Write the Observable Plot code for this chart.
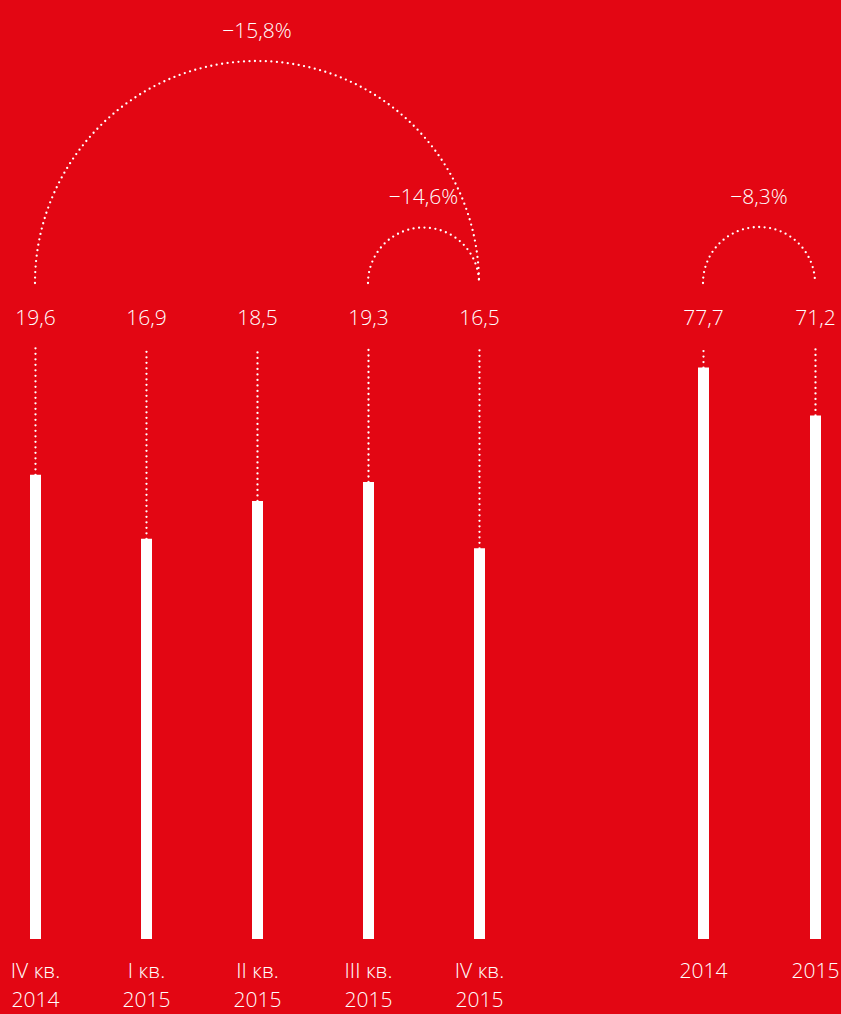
<!DOCTYPE html>
<html><head><meta charset="utf-8">
<script src="https://cdn.jsdelivr.net/npm/d3@7"></script>
<script src="https://cdn.jsdelivr.net/npm/@observablehq/plot@0.6"></script>
<style>
html,body{margin:0;padding:0;background:#E30613;}
#chart{position:relative;width:841px;height:1014px;background:#E30613;overflow:hidden;}
#chart svg{position:absolute;left:0;top:0;}
</style></head><body><div id="chart"></div>
<script>
// ---- data ----
const quarterLabels = ["IV кв.\n2014", "I кв.\n2015", "II кв.\n2015", "III кв.\n2015", "IV кв.\n2015"];
const quarterValues = [19.6, 16.9, 18.5, 19.3, 16.5];
const yearLabels = ["2014", "2015"];
const yearValues = [77.7, 71.2];
const quarterChangeFrom = ["IV кв.\n2014", "III кв.\n2015"];
const quarterChangeTo = ["IV кв.\n2015", "IV кв.\n2015"];
const quarterChangeText = ["−15,8%", "−14,6%"];
const yearChangeFrom = ["2014"];
const yearChangeTo = ["2015"];
const yearChangeText = ["−8,3%"];

const RED = "#E30613";
const FONT = "'Open Sans', 'DejaVu Sans', sans-serif";
const fmt = v => d3.format(".1f")(v).replace(".", ",");

function arcMark(froms, tos, texts) {
  return (index, scales, values, dims) => {
    const g = d3.create("svg:g");
    const base = dims.marginTop - 64;
    froms.forEach((f, i) => {
      const x1 = scales.x(f), x2 = scales.x(tos[i]);
      const r = (x2 - x1) / 2, cx = (x1 + x2) / 2;
      g.append("path")
        .attr("d", `M${x1},${base}A${r},${r} 0 0 1 ${x2},${base}`)
        .attr("fill", "none").attr("stroke", "white")
        .attr("stroke-width", 2.3).attr("stroke-dasharray", "0 5.5")
        .attr("stroke-linecap", "round");
      g.append("text")
        .attr("x", cx).attr("y", base - r - 30).attr("dy", "0.32em")
        .attr("text-anchor", "middle").attr("fill", "white")
        .text(texts[i]);
    });
    return g.node();
  };
}

function makePlot(labels, values, yMax, marginLeft, marginRight, froms, tos, texts) {
  const data = labels.map((c, i) => ({c, v: values[i]}));
  return Plot.plot({
    width: 841, height: 1014,
    marginTop: 347, marginBottom: 75, marginLeft, marginRight,
    style: {background: "transparent", color: "white", fontFamily: FONT, fontSize: "21px", fontWeight: 300},
    x: {type: "point", domain: labels, padding: 0},
    y: {domain: [0, yMax], axis: null},
    marks: [
      Plot.ruleX(data, {x: "c", y1: "v", y2: yMax, stroke: "white", strokeWidth: 2.3, strokeDasharray: "0 5.5", strokeLinecap: "round"}),
      Plot.ruleX(data, {x: "c", y1: 0, y2: "v", stroke: "white", strokeWidth: 11}),
      Plot.text(data, {x: "c", y: yMax, text: d => fmt(d.v), dy: -29, fill: "white"}),
      Plot.axisX({tickSize: 0, tickPadding: 18, lineHeight: 1.38, label: null, fill: "white"}),
      arcMark(froms, tos, texts)
    ]
  });
}

const chart = document.getElementById("chart");
chart.append(makePlot(quarterLabels, quarterValues, 25, 34, 361, quarterChangeFrom, quarterChangeTo, quarterChangeText));
chart.append(makePlot(yearLabels, yearValues, 80.5, 703, 26, yearChangeFrom, yearChangeTo, yearChangeText));
</script></body></html>
